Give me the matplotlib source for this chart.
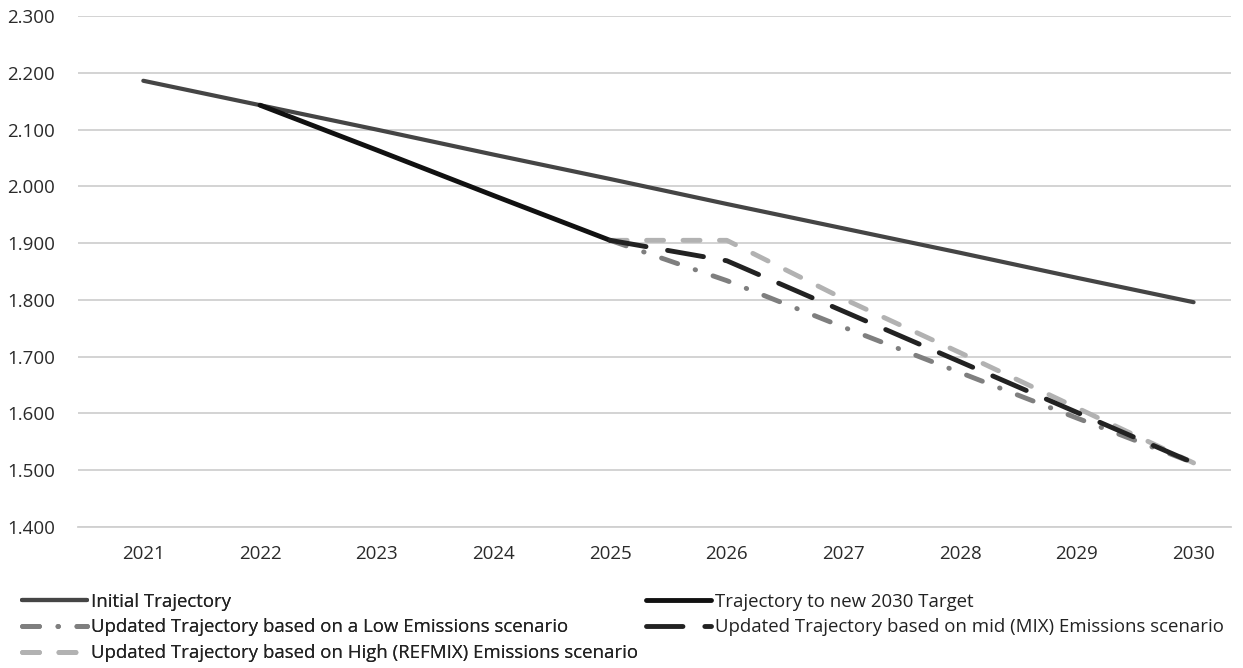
"""Emission trajectories towards the 2030 target"""

import matplotlib
matplotlib.use("Agg")
import matplotlib.pyplot as plt

years = ["2021", "2022", "2023", "2024", "2025", "2026", "2027", "2028", "2029", "2030"]

initial = [2.186, 2.143, 2.100, 2.056, 2.013, 1.969, 1.926, 1.883, 1.839, 1.796]
target_years = ["2022", "2023", "2024", "2025"]
target = [2.143, 2.064, 1.984, 1.905]

scen_years = ["2025", "2026", "2027", "2028", "2029", "2030"]
low = [1.905, 1.834, 1.752, 1.672, 1.592, 1.513]
mid = [1.905, 1.869, 1.780, 1.691, 1.602, 1.513]
high = [1.905, 1.905, 1.802, 1.707, 1.610, 1.513]

y_ticks = [1.4, 1.5, 1.6, 1.7, 1.8, 1.9, 2.0, 2.1, 2.2, 2.3]


def pos(labels):
    return [years.index(y) for y in labels]


def main():
    plt.rcParams['font.family'] = ['Open Sans', 'DejaVu Sans']

    fig = plt.figure(figsize=(12.43, 6.68), dpi=100)
    ax = fig.add_axes([0.063, 0.211, 0.927, 0.765])

    h_init, = ax.plot(pos(years), initial, color='#454545', lw=3,
                      solid_capstyle='round', label='Initial Trajectory', zorder=3)
    h_tgt, = ax.plot(pos(target_years), target, color='#111111', lw=3.5,
                     solid_capstyle='round', label='Trajectory to new 2030 Target', zorder=4)
    h_low, = ax.plot(pos(scen_years), low, color='#7f7f7f', lw=3.5,
                     linestyle=(0, (3.5, 3.8, 0.1, 3.8)), dash_capstyle='round',
                     label='Updated Trajectory based on a Low Emissions scenario', zorder=3)
    h_mid, = ax.plot(pos(scen_years), mid, color='#222222', lw=3.5,
                     linestyle=(0, (7.5, 4.5)), dash_capstyle='round',
                     label='Updated Trajectory based on mid (MIX) Emissions scenario', zorder=4)
    h_high, = ax.plot(pos(scen_years), high, color='#b2b2b2', lw=3.5,
                      linestyle=(0, (3.5, 4)), dash_capstyle='round',
                      label='Updated Trajectory based on High (REFMIX) Emissions scenario', zorder=2)

    ax.set_xlim(-0.557, 9.317)
    ax.set_ylim(1.4, 2.3)
    ax.set_xticks(range(len(years)))
    ax.set_xticklabels(years)
    ax.set_yticks(y_ticks)
    ax.set_yticklabels([f"{v:.3f}" for v in y_ticks])
    ax.tick_params(axis='both', length=0, labelsize=13.5, colors='#2a2a2a')
    ax.tick_params(axis='x', pad=13)
    ax.tick_params(axis='y', pad=17)
    ax.grid(axis='y', color='#d0d0d0', lw=1.3)
    ax.set_axisbelow(True)
    for side in ['top', 'right', 'left']:
        ax.spines[side].set_visible(False)
    ax.spines['bottom'].set_color('#d0d0d0')
    ax.spines['bottom'].set_linewidth(1.3)

    leg_kw = dict(loc='upper left', frameon=False, fontsize=13.4,
                  handlelength=3.5, handletextpad=0.2, labelspacing=0.42,
                  labelcolor='#222222', borderaxespad=0)
    left = [h_init, h_low, h_high]
    right = [h_tgt, h_mid]
    leg1 = fig.legend(left, [h.get_label() for h in left],
                      bbox_to_anchor=(0.012, 0.124), **leg_kw)
    fig.legend(right, [h.get_label() for h in right],
               bbox_to_anchor=(0.514, 0.124), **leg_kw)
    fig.add_artist(leg1)

    fig.savefig("out.png", dpi=100)
    plt.close(fig)


if __name__ == "__main__":
    main()
